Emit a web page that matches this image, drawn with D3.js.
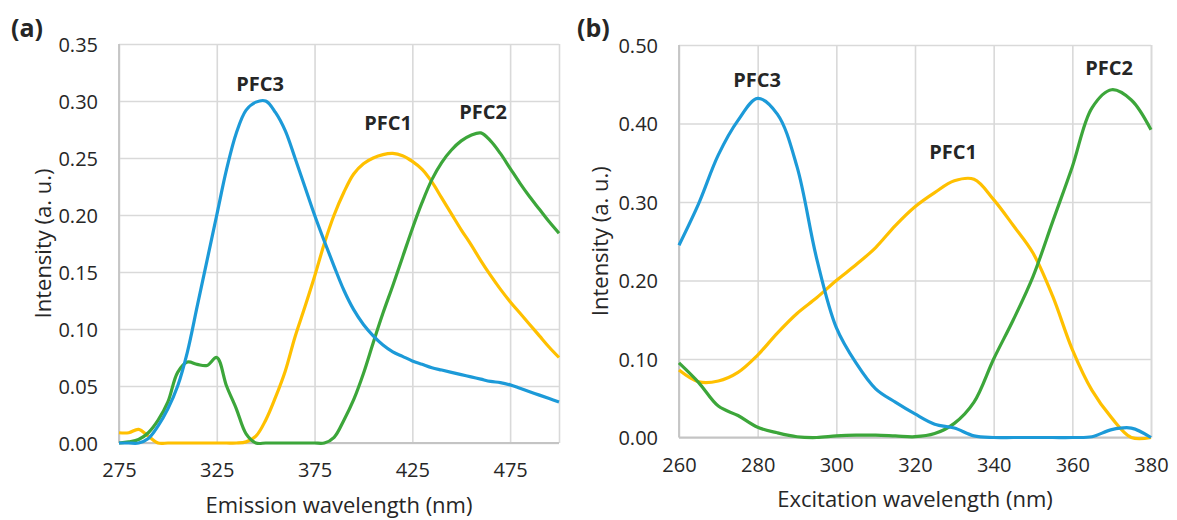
<!DOCTYPE html>
<html>
<head>
<meta charset="utf-8">
<script src="https://cdn.jsdelivr.net/npm/d3@7"></script>
<style>
  body { margin: 0; background: #fff; }
  text { font-family: "Open Sans", "Noto Sans", sans-serif; fill: #262626; }
</style>
</head>
<body>
<script>

//******************************************************************************
// Data ************************************************************************

    // (a) emission spectra
    var emWave = [275,280,285,290,295,300,305,310,315,320,325,330,335,340,345,350,355,360,365,370,
                  375,380,385,390,395,400,405,410,415,420,425,430,435,440,445,450,455,460,465,470,
                  475,480,485,490,495,500];
    var emPFC1 = [0.009,0.009,0.012,0.006,0,0,0,0,0,0,0,0,0,0.001,0.006,0.02,0.04,0.063,0.093,0.119,
                  0.146,0.175,0.2,0.22,0.236,0.245,0.25,0.253,0.254,0.252,0.247,0.24,0.229,0.215,0.201,0.187,0.174,0.16,0.147,0.135,
                  0.124,0.114,0.104,0.094,0.084,0.075];
    var emPFC2 = [0,0.001,0.003,0.009,0.02,0.036,0.062,0.071,0.069,0.068,0.075,0.05,0.03,0.008,0,0,0,0,0,0,
                  0,0,0.005,0.02,0.038,0.061,0.088,0.114,0.138,0.163,0.188,0.211,0.231,0.246,0.257,0.265,0.27,0.272,0.265,0.254,
                  0.241,0.228,0.216,0.205,0.194,0.184];
    var emPFC3 = [0,0,0,0.004,0.015,0.03,0.05,0.08,0.12,0.16,0.2,0.24,0.272,0.292,0.299,0.3,0.29,0.274,0.25,0.225,
                  0.2,0.177,0.155,0.134,0.117,0.104,0.094,0.086,0.08,0.076,0.072,0.069,0.066,0.064,0.062,0.06,0.058,0.056,0.054,0.053,
                  0.051,0.048,0.045,0.042,0.039,0.036];

    // (b) excitation spectra
    var exWave = [260,265,270,275,280,285,290,295,300,305,310,315,320,325,330,335,340,345,350,355,360,365,370,375,380];
    var exPFC1 = [0.086,0.071,0.072,0.083,0.105,0.133,0.158,0.178,0.2,0.22,0.242,0.27,0.294,0.312,0.327,0.329,0.303,0.27,0.235,0.18,0.112,0.06,0.025,0,0];
    var exPFC2 = [0.095,0.07,0.04,0.028,0.013,0.006,0.001,0,0.002,0.003,0.003,0.002,0.001,0.005,0.018,0.045,0.1,0.15,0.205,0.275,0.345,0.42,0.443,0.43,0.392];
    var exPFC3 = [0.245,0.298,0.36,0.404,0.432,0.412,0.345,0.228,0.14,0.095,0.062,0.045,0.03,0.017,0.012,0.002,0,0,0,0,0,0.001,0.01,0.012,0];

    var emTicks = [275,325,375,425,475];
    var exTicks = [260,280,300,320,340,360,380];
    var emYTicks = [0,0.05,0.10,0.15,0.20,0.25,0.30,0.35];
    var exYTicks = [0,0.10,0.20,0.30,0.40,0.50];

    var seriesColors = { PFC1 : "#ffc000", PFC2 : "#3ca63a", PFC3 : "#1c9ad8" };


//******************************************************************************
// Settings ********************************************************************

    var panelA = {
        tag : "(a)", tagX : 11, tagY : 37,
        left : 119, top : 44, width : 440, height : 399,
        xDomain : [275,500], yDomain : [0,0.35],
        xTicks : emTicks, yTicks : emYTicks,
        xTitle : "Emission wavelength (nm)",
        yTitleX : 43,
        wave : emWave,
        series : { PFC1 : emPFC1, PFC2 : emPFC2, PFC3 : emPFC3 },
        labels : { PFC3 : [260,84], PFC1 : [388,123], PFC2 : [483,112] }, // label centres, px
    };

    var panelB = {
        tag : "(b)", tagX : 577, tagY : 37,
        left : 679, top : 45, width : 472, height : 392.5,
        xDomain : [260,380], yDomain : [0,0.50],
        xTicks : exTicks, yTicks : exYTicks,
        xTitle : "Excitation wavelength (nm)",
        yTitleX : 600,
        wave : exWave,
        series : { PFC1 : exPFC1, PFC2 : exPFC2, PFC3 : exPFC3 },
        labels : { PFC3 : [757,80], PFC1 : [953,152], PFC2 : [1109,68] },
    };


//******************************************************************************
// Prog ************************************************************************

    var svg = d3.select("body").append("svg")
        .attr("width", 1177)
        .attr("height", 520);

    drawPanel(panelA);
    drawPanel(panelB);


//******************************************************************************
// Functions *******************************************************************

    function drawPanel(p){

        var x = d3.scaleLinear().domain(p.xDomain).range([0, p.width]);
        var y = d3.scaleLinear().domain(p.yDomain).range([p.height, 0]);

        var g = svg.append("g")
            .attr("transform", "translate(" + p.left + "," + p.top + ")");

        // grid
        g.append("g")
            .attr("class", "grid")
            .call(d3.axisLeft(y).tickValues(p.yTicks).tickSize(-p.width).tickFormat(""))
            .call(s => s.select(".domain").remove());
        g.append("g")
            .attr("class", "grid")
            .attr("transform", "translate(0," + p.height + ")")
            .call(d3.axisBottom(x).tickValues(p.xTicks.concat([p.xDomain[1]])).tickSize(-p.height).tickFormat(""))
            .call(s => s.select(".domain").remove());
        g.selectAll(".grid line")
            .attr("stroke", "#d9d9d9")
            .attr("stroke-width", 1.6);

        // frame (left and bottom axis a bit darker)
        g.append("line").attr("x1", 0).attr("x2", 0).attr("y1", 0).attr("y2", p.height)
            .attr("stroke", "#c4c4c4").attr("stroke-width", 1.8);
        g.append("line").attr("x1", 0).attr("x2", p.width).attr("y1", p.height).attr("y2", p.height)
            .attr("stroke", "#c4c4c4").attr("stroke-width", 1.8);

        // tick labels
        var yAx = g.append("g")
            .call(d3.axisLeft(y).tickValues(p.yTicks).tickSize(0).tickPadding(21).tickFormat(d3.format(".2f")));
        yAx.select(".domain").remove();
        yAx.selectAll("text").style("font-size", "20px").attr("fill", "#262626").attr("dy", "0.35em");

        var xAx = g.append("g")
            .attr("transform", "translate(0," + p.height + ")")
            .call(d3.axisBottom(x).tickValues(p.xTicks).tickSize(0).tickPadding(20));
        xAx.select(".domain").remove();
        xAx.selectAll("text").style("font-size", "20px").attr("fill", "#262626");

        // curves
        Object.keys(p.series).forEach(function(name){
            var vals = p.series[name];
            var line = d3.line()
                .x((d,i) => x(p.wave[i]))
                .y(d => y(d))
                .curve(d3.curveCatmullRom.alpha(0.5));
            g.append("path")
                .datum(vals)
                .attr("d", line)
                .attr("fill", "none")
                .attr("stroke", seriesColors[name])
                .attr("stroke-width", 3.2)
                .attr("stroke-linejoin", "round");
        });

        // series labels
        Object.keys(p.labels).forEach(function(name){
            svg.append("text")
                .attr("x", p.labels[name][0])
                .attr("y", p.labels[name][1])
                .attr("dy", "0.35em")
                .attr("text-anchor", "middle")
                .style("font-size", "20px")
                .style("font-weight", "bold")
                .attr("fill", "#111")
                .text(name);
        });

        // axis titles
        svg.append("text")
            .attr("x", p.left + p.width / 2)
            .attr("y", p.top + p.height + 62)
            .attr("dy", "0.35em")
            .attr("text-anchor", "middle")
            .style("font-size", "22px")
            .text(p.xTitle);

        svg.append("text")
            .attr("transform", "translate(" + p.yTitleX + "," + (p.top + p.height / 2) + ") rotate(-90)")
            .attr("dy", "0.35em")
            .attr("text-anchor", "middle")
            .style("font-size", "22px")
            .text("Intensity (a. u.)");

        // panel tag
        svg.append("text")
            .attr("x", p.tagX)
            .attr("y", p.tagY)
            .style("font-size", "25px")
            .style("font-weight", "bold")
            .attr("fill", "#000")
            .text(p.tag);
    }

</script>
</body>
</html>
